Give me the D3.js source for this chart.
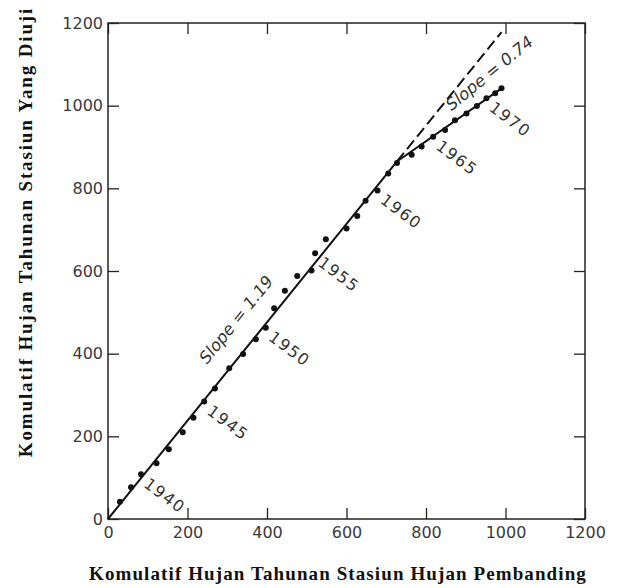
<!DOCTYPE html>
<html>
<head>
<meta charset="utf-8">
<script src="https://cdn.jsdelivr.net/npm/d3@7"></script>
<style>
  body { margin: 0; background: #fff; }
  .tick text { font-family: "DejaVu Sans", sans-serif; font-size: 16px; fill: #3a3a3a; }
  .tick line { stroke: #222; stroke-width: 1.3; }
  .title { font-family: "Liberation Serif", "Times New Roman", serif; font-weight: bold; font-size: 19px; fill: #111; }
  .year { font-family: "DejaVu Sans", sans-serif; font-size: 16px; fill: #333; letter-spacing: 1.5px; }
  .slope { font-family: "DejaVu Sans", sans-serif; font-style: italic; font-size: 16.5px; fill: #333; }
</style>
</head>
<body>
<svg id="chart" width="617" height="588"></svg>
<script>
const W = 617;
const H = 588;

// cumulative annual rainfall, reference station (x) and tested station (y)
const years = [1938, 1939, 1940, 1941, 1942, 1943, 1944, 1945, 1946, 1947,
  1948, 1949, 1950, 1951, 1952, 1953, 1954, 1955, 1956, 1957,
  1958, 1959, 1960, 1961, 1962, 1963, 1964, 1965, 1966, 1967,
  1968, 1969, 1970, 1971, 1972];
const cumPembanding = [30, 58, 83, 122, 153, 188, 215, 242, 269, 305,
  340, 372, 397, 418, 445, 476, 512, 521, 548, 600,
  627, 648, 678, 705, 727, 764, 789, 818, 848, 873,
  902, 928, 952, 974, 990];
const cumDiuji = [42, 77, 108, 135, 169, 210, 245, 284, 316, 365,
  399, 435, 463, 510, 552, 588, 601, 643, 677, 703,
  733, 770, 795, 836, 861, 881, 901, 925, 941, 965,
  981, 999, 1018, 1030, 1042];
const labelYears = [1940, 1945, 1950, 1955, 1960, 1965, 1970];

const xTicks = [0, 200, 400, 600, 800, 1000, 1200];
const yTicks = [0, 200, 400, 600, 800, 1000, 1200];

// fitted lines
const lineBefore = [[0, 0], [727, 865]];
const lineAfter = [[727, 865], [990, 1042]];
const lineExtended = [[727, 865], [990, 1178]];
const slopeValues = [1.19, 0.74];
const slopeTexts = ['Slope = 1.19', 'Slope = 0.74'];

const xTitle = 'Komulatif Hujan Tahunan Stasiun Hujan Pembanding';
const yTitle = 'Komulatif Hujan Tahunan Stasiun Yang Diuji';

const margin = {left: 108, right: W - 585, top: 23, bottom: H - 519};

const svg = d3.select('#chart');

const x = d3.scaleLinear().domain([0, 1200]).range([margin.left, W - margin.right]);
const y = d3.scaleLinear().domain([0, 1200]).range([H - margin.bottom, margin.top]);

const TICK = 11;
const fmt = d3.format('d');

svg.append('g')
  .attr('transform', 'translate(0,' + y(0) + ')')
  .call(d3.axisBottom(x).tickValues(xTicks).tickFormat(fmt).tickSize(-TICK).tickPadding(8))
  .call(g => g.select('.domain').remove());

svg.append('g')
  .attr('transform', 'translate(' + x(0) + ',0)')
  .call(d3.axisLeft(y).tickValues(yTicks).tickFormat(fmt).tickSize(-TICK).tickPadding(5))
  .call(g => g.select('.domain').remove());

svg.append('g')
  .attr('transform', 'translate(0,' + y(1200) + ')')
  .call(d3.axisTop(x).tickValues(xTicks).tickSize(-TICK).tickFormat(''))
  .call(g => g.select('.domain').remove());

svg.append('g')
  .attr('transform', 'translate(' + x(1200) + ',0)')
  .call(d3.axisRight(y).tickValues(yTicks).tickSize(-TICK).tickFormat(''))
  .call(g => g.select('.domain').remove());

svg.append('rect')
  .attr('x', x(0))
  .attr('y', y(1200))
  .attr('width', x(1200) - x(0))
  .attr('height', y(0) - y(1200))
  .attr('fill', 'none')
  .attr('stroke', '#222')
  .attr('stroke-width', 1.5);

const line = d3.line().x(d => x(d[0])).y(d => y(d[1]));

svg.append('path')
  .attr('d', line(lineExtended))
  .attr('fill', 'none')
  .attr('stroke', '#111')
  .attr('stroke-width', 2)
  .attr('stroke-dasharray', '11,5');

[lineBefore, lineAfter].forEach(l => {
  svg.append('path')
    .attr('d', line(l))
    .attr('fill', 'none')
    .attr('stroke', '#111')
    .attr('stroke-width', 2);
});

const pts = years.map((yr, i) => ({year: yr, a: cumPembanding[i], b: cumDiuji[i]}));

svg.selectAll('.pt')
  .data(pts)
  .enter()
  .append('circle')
  .classed('pt', true)
  .attr('cx', d => x(d.a))
  .attr('cy', d => y(d.b))
  .attr('r', 3)
  .attr('fill', '#111');

svg.selectAll('.year')
  .data(pts.filter(d => labelYears.includes(d.year)))
  .enter()
  .append('text')
  .classed('year', true)
  .attr('transform', d => 'translate(' + (x(d.a) + 9) + ',' + (y(d.b) + 2) + ') rotate(37)')
  .attr('dy', '0.75em')
  .text(d => d.year);

// slope labels, rotated along their line
const pxRatio = (y(0) - y(1)) / (x(1) - x(0));
const slopeAnchors = [
  {seg: lineBefore, at: 288, off: -20, tilt: 0},
  {seg: lineAfter, at: 880, off: -10, tilt: 1.5}
];
slopeAnchors.forEach((s, i) => {
  const [p0, p1] = s.seg;
  const t = (s.at - p0[0]) / (p1[0] - p0[0]);
  const vy = p0[1] + t * (p1[1] - p0[1]);
  const ang = Math.atan(slopeValues[i] * pxRatio) * 180 / Math.PI + s.tilt;
  svg.append('text')
    .classed('slope', true)
    .attr('transform', 'translate(' + x(s.at) + ',' + y(vy) + ') rotate(' + (-ang) + ')')
    .attr('dy', s.off)
    .text(slopeTexts[i]);
});

svg.append('text')
  .classed('title', true)
  .attr('x', 338)
  .attr('y', 580)
  .attr('text-anchor', 'middle')
  .style('letter-spacing', '1.1px')
  .text(xTitle);

svg.append('text')
  .classed('title', true)
  .attr('transform', 'translate(32,232) rotate(-90)')
  .attr('text-anchor', 'middle')
  .style('letter-spacing', '1.85px')
  .text(yTitle);
</script>
</body>
</html>
